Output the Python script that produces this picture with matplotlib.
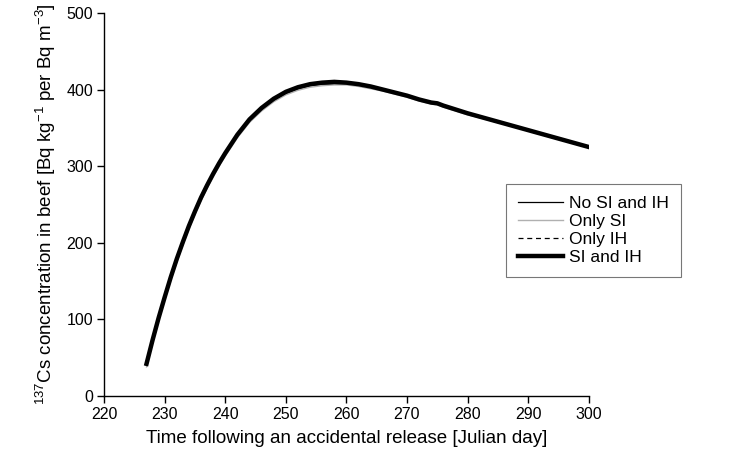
import matplotlib.pyplot as plt

plt.rcParams['font.family'] = ['Liberation Sans', 'DejaVu Sans']
plt.rcParams['mathtext.fontset'] = 'custom'
plt.rcParams['mathtext.rm'] = 'Liberation Sans'

# Julian days of the simulation
days = [227, 228, 229, 230, 231, 232, 233, 234, 235, 236, 237, 238, 239, 240,
        242, 244, 246, 248, 250, 252, 254, 256, 258, 260, 262, 264, 266, 268,
        270, 272, 274, 275, 276, 278, 280, 285, 290, 295, 300]

# 137Cs in beef for each scenario
si_ih = [42, 73, 102, 129, 155, 179, 201, 222, 241, 259, 275, 290, 304, 317,
         341, 361, 376, 388, 397, 403, 407, 409, 410, 409, 407, 404, 400, 396,
         392, 387, 383, 382, 379, 374, 369, 358, 347, 336, 325]
only_ih = [42, 73, 102, 129, 155, 179, 201, 222, 241, 259, 275, 290, 304, 317,
           341, 361, 376, 388, 397, 403, 407, 409, 410, 409, 407, 404, 400, 396,
           392, 387, 383, 382, 379, 374, 369, 358, 347, 336, 325]
only_si = [38, 69, 98, 125, 151, 175, 197, 218, 237, 255, 271, 286, 300, 313,
           337, 357, 372, 384, 393, 399, 403, 405, 406, 406, 404, 401, 398, 394,
           390, 385, 381, 380, 377, 372, 367, 357, 346, 335, 324]
no_si_ih = [40, 71, 100, 127, 153, 177, 199, 220, 239, 257, 273, 288, 302, 315,
            339, 359, 374, 386, 395, 401, 405, 407, 407, 407, 405, 402, 399, 395,
            391, 386, 382, 381, 378, 373, 368, 357, 346, 335, 324]

fig = plt.figure(figsize=(7.49, 4.61), dpi=100)
ax = fig.add_axes([0.139, 0.141, 0.647, 0.831])

ax.plot(days, no_si_ih, color='black', lw=0.9, label='No SI and IH')
ax.plot(days, only_si, color='#b0b0b0', lw=1.0, label='Only SI')
ax.plot(days, only_ih, color='black', lw=0.9, ls=(0, (4, 3)), label='Only IH')
ax.plot(days, si_ih, color='black', lw=3.2, label='SI and IH')

ax.set_xlim(220, 300)
ax.set_ylim(0, 500)
ax.set_xticks(range(220, 301, 10))
ax.set_yticks(range(0, 501, 100))

ax.spines['top'].set_visible(False)
ax.spines['right'].set_visible(False)
for s in ('left', 'bottom'):
    ax.spines[s].set_linewidth(1.0)
ax.tick_params(direction='out', length=5, width=1.0, labelsize=11.5, pad=3)

ax.set_xlabel('Time following an accidental release [Julian day]', fontsize=13.5, labelpad=6)
ax.set_ylabel(r'$^{137}$Cs concentration in beef [Bq kg$^{-1}$ per Bq m$^{-3}$]',
              fontsize=13.5, labelpad=6)

leg = ax.legend(loc='upper left', bbox_to_anchor=(0.829, 0.553), fontsize=12.5,
                frameon=True, fancybox=False, handlelength=2.6, handletextpad=0.35,
                labelspacing=0.15, borderpad=0.7, borderaxespad=0)
leg.get_frame().set_edgecolor('#555555')
leg.get_frame().set_linewidth(0.8)

fig.savefig('out.png', dpi=100)
